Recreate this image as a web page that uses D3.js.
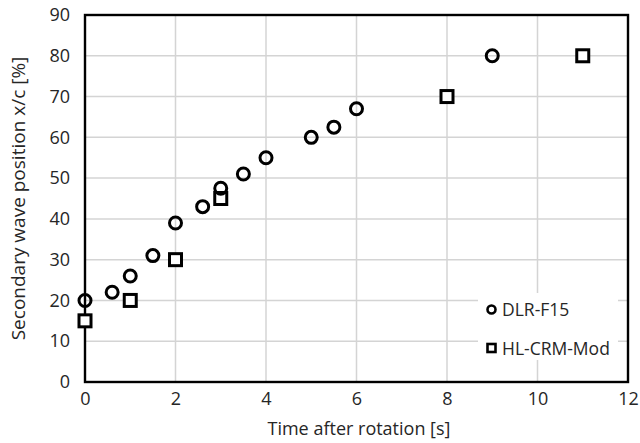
<!DOCTYPE html>
<html>
<head>
<meta charset="utf-8">
<script src="https://cdn.jsdelivr.net/npm/d3@7"></script>
<style>
  body { margin: 0; background: #fff; }
  text { font-family: "Open Sans", sans-serif; fill: #262626; }
</style>
</head>
<body>
<svg id="chart"></svg>
<script>
// data
const dlrTime = [0, 0.6, 1, 1.5, 2, 2.6, 3, 3.5, 4, 5, 5.5, 6, 9];
const dlrPos  = [20, 22, 26, 31, 39, 43, 47.5, 51, 55, 60, 62.5, 67, 80];
const hlTime  = [0, 1, 2, 3, 8, 11];
const hlPos   = [15, 20, 30, 45, 70, 80];
const xTicks  = [0, 2, 4, 6, 8, 10, 12];
const yTicks  = [0, 10, 20, 30, 40, 50, 60, 70, 80, 90];
const seriesNames = ["DLR-F15", "HL-CRM-Mod"];

const size = {width: 640, height: 443};
const margin = {top: 15, right: 12, bottom: 61, left: 85};

const svg = d3.select("#chart")
    .attr("width", size.width)
    .attr("height", size.height);

const x = d3.scaleLinear().domain([0, 12]).range([margin.left, size.width - margin.right]);
const y = d3.scaleLinear().domain([0, 90]).range([size.height - margin.bottom, margin.top]);

// grid
const grid = svg.append("g").attr("stroke", "#d4d4d4").attr("stroke-width", 1.5);
grid.selectAll(".gx")
    .data(xTicks.slice(1, -1))
    .join("line")
    .attr("x1", d => x(d)).attr("x2", d => x(d))
    .attr("y1", y(0)).attr("y2", y(90));
grid.selectAll(".gy")
    .data(yTicks.slice(1, -1))
    .join("line")
    .attr("x1", x(0)).attr("x2", x(12))
    .attr("y1", d => y(d)).attr("y2", d => y(d));

// axes (labels only, frame drawn below)
const xAxis = svg.append("g")
    .attr("transform", `translate(0,${y(0)})`)
    .call(d3.axisBottom(x).tickValues(xTicks).tickSize(0).tickPadding(10));
const yAxis = svg.append("g")
    .attr("transform", `translate(${x(0)},0)`)
    .call(d3.axisLeft(y).tickValues(yTicks).tickSize(0).tickPadding(15));
[xAxis, yAxis].forEach(a => {
    a.select(".domain").remove();
    a.selectAll("text").style("font-size", "18px").attr("fill", "#262626");
});

// frame
svg.append("rect")
    .attr("x", x(0)).attr("y", y(90))
    .attr("width", x(12) - x(0)).attr("height", y(0) - y(90))
    .attr("fill", "none").attr("stroke", "#000").attr("stroke-width", 2.4);

// titles
svg.append("text")
    .attr("x", 359).attr("y", 435)
    .attr("text-anchor", "middle")
    .style("font-size", "18px")
    .text("Time after rotation [s]");
svg.append("text")
    .attr("transform", `translate(25,${(y(0) + y(90)) / 2}) rotate(-90)`)
    .attr("text-anchor", "middle")
    .style("font-size", "19px")
    .text("Secondary wave position x/c [%]");

// markers
const dlr = dlrTime.map((t, i) => ({t, p: dlrPos[i]}));
const hl = hlTime.map((t, i) => ({t, p: hlPos[i]}));

svg.append("g").selectAll("rect")
    .data(hl)
    .join("rect")
    .attr("x", d => x(d.t) - 6).attr("y", d => y(d.p) - 6)
    .attr("width", 12).attr("height", 12)
    .attr("fill", "#fff").attr("stroke", "#000").attr("stroke-width", 3);

svg.append("g").selectAll("circle")
    .data(dlr)
    .join("circle")
    .attr("cx", d => x(d.t)).attr("cy", d => y(d.p))
    .attr("r", 6)
    .attr("fill", "none").attr("stroke", "#000").attr("stroke-width", 3);

// legend
const legend = svg.append("g");
legend.append("rect")
    .attr("x", 478).attr("y", 293).attr("width", 140).attr("height", 67)
    .attr("fill", "#fff");
legend.append("circle")
    .attr("cx", 491.5).attr("cy", 309.5).attr("r", 4)
    .attr("fill", "none").attr("stroke", "#000").attr("stroke-width", 2.6);
legend.append("rect")
    .attr("x", 487.5).attr("y", 344).attr("width", 8).attr("height", 8)
    .attr("fill", "none").attr("stroke", "#000").attr("stroke-width", 2.6);
legend.selectAll("text")
    .data(seriesNames)
    .join("text")
    .attr("x", 502)
    .attr("y", (d, i) => 316 + i * 39)
    .style("font-size", "17.5px")
    .text(d => d);
</script>
</body>
</html>
